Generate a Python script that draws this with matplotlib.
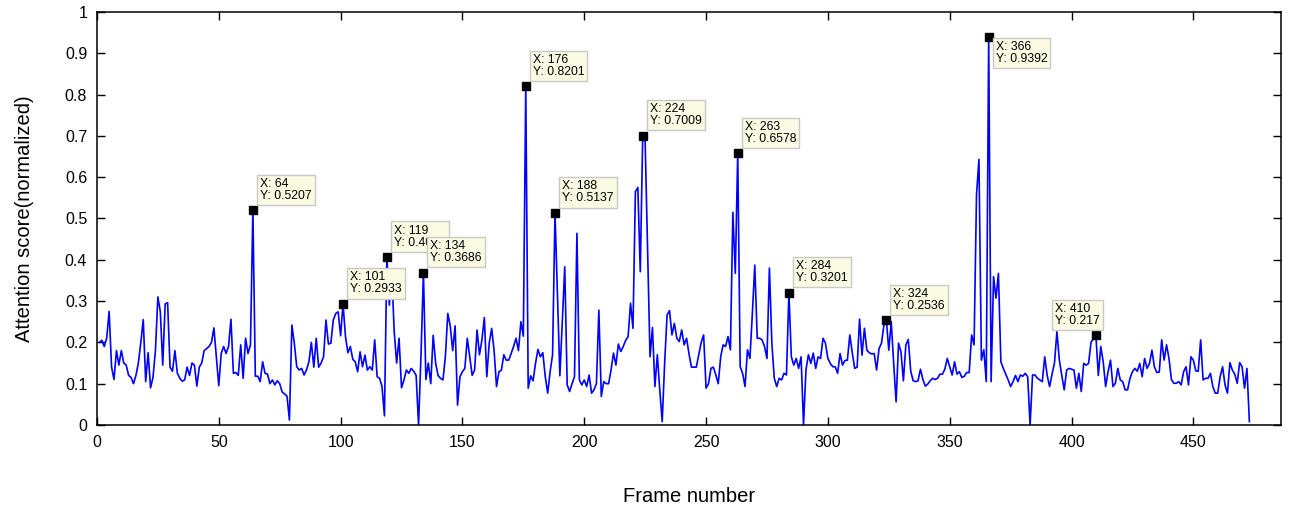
import numpy as np
import matplotlib
matplotlib.use("Agg")
import matplotlib.pyplot as plt

plt.rcParams['font.family'] = ['Liberation Sans', 'DejaVu Sans']

# attention score per frame (frames 1..473)
scores = [
    0.200, 0.205, 0.190, 0.210, 0.275, 0.140, 0.110, 0.180, 0.145, 0.180,
    0.150, 0.145, 0.120, 0.115, 0.100, 0.120, 0.150, 0.200, 0.255, 0.105,
    0.175, 0.090, 0.115, 0.180, 0.310, 0.275, 0.145, 0.293, 0.296, 0.140,
    0.130, 0.180, 0.125, 0.113, 0.106, 0.109, 0.140, 0.120, 0.150, 0.145,
    0.094, 0.140, 0.150, 0.180, 0.185, 0.190, 0.200, 0.235, 0.165, 0.095,
    0.173, 0.190, 0.173, 0.190, 0.256, 0.125, 0.127, 0.120, 0.194, 0.113,
    0.210, 0.173, 0.194, 0.5207, 0.118, 0.118, 0.105, 0.153, 0.125, 0.123,
    0.100, 0.109, 0.097, 0.107, 0.100, 0.080, 0.075, 0.070, 0.012, 0.242,
    0.198, 0.141, 0.133, 0.137, 0.121, 0.133, 0.153, 0.200, 0.140, 0.210,
    0.140, 0.150, 0.165, 0.254, 0.196, 0.198, 0.254, 0.270, 0.274, 0.216,
    0.2933, 0.214, 0.175, 0.190, 0.159, 0.153, 0.129, 0.177, 0.141, 0.169,
    0.133, 0.141, 0.133, 0.206, 0.117, 0.113, 0.093, 0.022, 0.407, 0.290,
    0.370, 0.226, 0.150, 0.210, 0.090, 0.109, 0.133, 0.125, 0.137, 0.130,
    0.120, 0.000, 0.170, 0.3686, 0.110, 0.150, 0.100, 0.217, 0.150, 0.120,
    0.113, 0.109, 0.165, 0.270, 0.240, 0.180, 0.240, 0.048, 0.117, 0.129,
    0.137, 0.210, 0.165, 0.120, 0.133, 0.230, 0.170, 0.206, 0.260, 0.117,
    0.198, 0.234, 0.180, 0.093, 0.129, 0.133, 0.170, 0.157, 0.157, 0.173,
    0.190, 0.210, 0.180, 0.250, 0.215, 0.8201, 0.089, 0.119, 0.107, 0.149,
    0.183, 0.165, 0.175, 0.117, 0.077, 0.129, 0.170, 0.5137, 0.320, 0.119,
    0.250, 0.383, 0.097, 0.081, 0.100, 0.117, 0.464, 0.109, 0.097, 0.109,
    0.093, 0.121, 0.077, 0.085, 0.100, 0.278, 0.069, 0.105, 0.100, 0.100,
    0.133, 0.174, 0.145, 0.196, 0.178, 0.190, 0.205, 0.214, 0.295, 0.234,
    0.565, 0.575, 0.371, 0.7009, 0.686, 0.424, 0.165, 0.236, 0.093, 0.170,
    0.085, 0.008, 0.150, 0.266, 0.277, 0.218, 0.246, 0.210, 0.202, 0.230,
    0.194, 0.210, 0.172, 0.140, 0.140, 0.140, 0.170, 0.200, 0.218, 0.089,
    0.100, 0.137, 0.140, 0.121, 0.100, 0.165, 0.194, 0.190, 0.214, 0.182,
    0.515, 0.367, 0.6578, 0.141, 0.125, 0.093, 0.182, 0.161, 0.270, 0.387,
    0.210, 0.210, 0.206, 0.190, 0.161, 0.380, 0.198, 0.113, 0.093, 0.113,
    0.109, 0.125, 0.121, 0.3201, 0.165, 0.145, 0.161, 0.137, 0.165, 0.000,
    0.133, 0.170, 0.149, 0.174, 0.137, 0.165, 0.161, 0.210, 0.198, 0.161,
    0.149, 0.141, 0.141, 0.125, 0.173, 0.145, 0.156, 0.157, 0.218, 0.175,
    0.137, 0.140, 0.256, 0.169, 0.234, 0.181, 0.175, 0.172, 0.173, 0.133,
    0.185, 0.198, 0.242, 0.2536, 0.181, 0.250, 0.149, 0.056, 0.198, 0.177,
    0.107, 0.194, 0.207, 0.130, 0.107, 0.105, 0.107, 0.135, 0.110, 0.094,
    0.099, 0.107, 0.113, 0.110, 0.113, 0.123, 0.123, 0.135, 0.161, 0.141,
    0.121, 0.153, 0.123, 0.129, 0.115, 0.118, 0.127, 0.127, 0.218, 0.194,
    0.557, 0.643, 0.157, 0.182, 0.105, 0.9392, 0.105, 0.359, 0.307, 0.367,
    0.153, 0.137, 0.123, 0.109, 0.093, 0.105, 0.120, 0.105, 0.121, 0.118,
    0.125, 0.117, 0.000, 0.121, 0.121, 0.113, 0.109, 0.105, 0.165, 0.120,
    0.093, 0.123, 0.150, 0.226, 0.157, 0.120, 0.085, 0.133, 0.137, 0.135,
    0.133, 0.089, 0.125, 0.081, 0.149, 0.145, 0.149, 0.200, 0.210, 0.217,
    0.120, 0.190, 0.153, 0.093, 0.129, 0.157, 0.093, 0.101, 0.137, 0.109,
    0.105, 0.085, 0.085, 0.113, 0.129, 0.137, 0.130, 0.149, 0.117, 0.161,
    0.137, 0.149, 0.181, 0.141, 0.127, 0.128, 0.206, 0.157, 0.194, 0.161,
    0.110, 0.101, 0.101, 0.105, 0.097, 0.129, 0.141, 0.097, 0.165, 0.157,
    0.131, 0.130, 0.206, 0.109, 0.113, 0.113, 0.125, 0.093, 0.077, 0.077,
    0.117, 0.141, 0.097, 0.077, 0.151, 0.133, 0.123, 0.101, 0.151, 0.141,
    0.089, 0.137, 0.008,
]
frames = np.arange(1, len(scores) + 1)

# data tips: frame, label text, placement of box
tip_frames = [64, 101, 119, 134, 176, 188, 224, 263, 284, 324, 366, 410]
tip_labels = ['0.5207', '0.2933', '0.4072', '0.3686', '0.8201', '0.5137',
              '0.7009', '0.6578', '0.3201', '0.2536', '0.9392', '0.217']
tip_side = ['ur', 'ur', 'ur', 'ur', 'ur', 'ur', 'ur', 'ur', 'ur', 'ur', 'lr', 'ul']

fig = plt.figure(figsize=(12.91, 5.12), dpi=100)
ax = fig.add_axes([0.0751, 0.170, 0.9172, 0.8066])

ax.plot(frames, scores, color='#0000ff', linewidth=1.2)

ax.set_xlim(0, 486)
ax.set_ylim(0, 1)
ax.set_xticks(np.arange(0, 451, 50))
ax.set_yticks(np.arange(0, 1.01, 0.1))
ax.set_yticklabels(['0', '0.1', '0.2', '0.3', '0.4', '0.5', '0.6', '0.7', '0.8', '0.9', '1'])
ax.tick_params(direction='in', top=True, right=True, length=6, width=1, labelsize=11.5, pad=7)
for s in ax.spines.values():
    s.set_linewidth(1.1)

ax.set_xlabel('Frame number', fontsize=14.5, labelpad=27)
ax.set_ylabel('Attention score(normalized)', fontsize=14.5, labelpad=22)

offsets = {'ur': ((5, 6), 'left', 'bottom'),
           'lr': ((5, -3), 'left', 'top'),
           'ul': ((3, 6), 'right', 'bottom')}
for f, lab, side in zip(tip_frames, tip_labels, tip_side):
    yv = scores[f - 1]
    ax.plot(f, yv, marker='s', color='black', markersize=5.5, zorder=5)
    off, ha, va = offsets[side]
    ax.annotate('X: %d\nY: %s' % (f, lab), xy=(f, yv), xytext=off,
                textcoords='offset points', ha=ha, va=va, fontsize=8.8,
                multialignment='left', linespacing=1.0, zorder=6,
                bbox=dict(boxstyle='square,pad=0.25', fc='#fbfbe4', ec='#c8c8c8', lw=1))

fig.savefig('out.png', dpi=100)
